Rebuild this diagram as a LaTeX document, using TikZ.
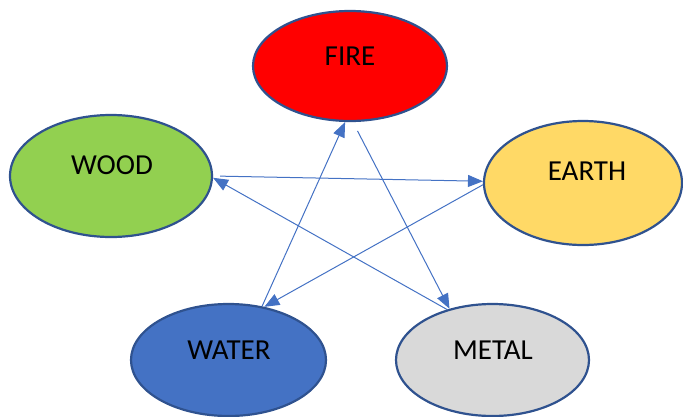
\documentclass[tikz,border=0pt]{standalone}
\usepackage{fontspec}
\setmainfont{Carlito}
\usetikzlibrary{shapes.geometric,arrows.meta}
\definecolor{edgeblue}{HTML}{2F528F}
\definecolor{arrowblue}{HTML}{4472C4}
\definecolor{firered}{HTML}{FF0000}
\definecolor{woodgreen}{HTML}{92D050}
\definecolor{earthyellow}{HTML}{FFD966}
\definecolor{waterblue}{HTML}{4472C4}
\definecolor{metalgrey}{HTML}{D9D9D9}
\begin{document}
\begin{tikzpicture}[x=1pt,y=-1pt,
  element/.style={ellipse,draw=edgeblue,line width=2.2pt,inner sep=0pt},
  label text/.style={anchor=base,font=\fontsize{29}{34}\selectfont,text=black,inner sep=0pt},
  ctrl/.style={draw=arrowblue,line width=1pt,-{Triangle[length=15pt,width=12pt]}}]
\useasboundingbox (0,0) rectangle (683,416);
\node[element,fill=firered,minimum width=194pt,minimum height=110pt] (fire) at (350,66) {};
\node[element,fill=woodgreen,minimum width=202pt,minimum height=122pt] (wood) at (111,176) {};
\node[element,fill=earthyellow,minimum width=198pt,minimum height=124pt] (earth) at (583,183) {};
\node[element,fill=waterblue,minimum width=195pt,minimum height=112pt] (water) at (228.5,360) {};
\node[element,fill=metalgrey,minimum width=193pt,minimum height=112pt] (metal) at (492.5,360) {};
\node[label text] (firet) at (350,65) {FIRE};
\node[label text] (woodt) at (112,174) {WOOD};
\node[label text] (eartht) at (587,180) {EARTH};
\node[label text] (watert) at (229,359) {WATER};
\node[label text] (metalt) at (493,359) {METAL};
\draw[ctrl,shorten <=7pt] (wood.east) -- (earth.179);
\draw[ctrl] (earth.181) -- (water.56);
\draw[ctrl] (water.58) -- (fire.265);
\draw[ctrl,shorten <=10pt] (fire.273) -- (metal.130);
\draw[ctrl] (metal.132) -- (wood.359);
\end{tikzpicture}
\end{document}
